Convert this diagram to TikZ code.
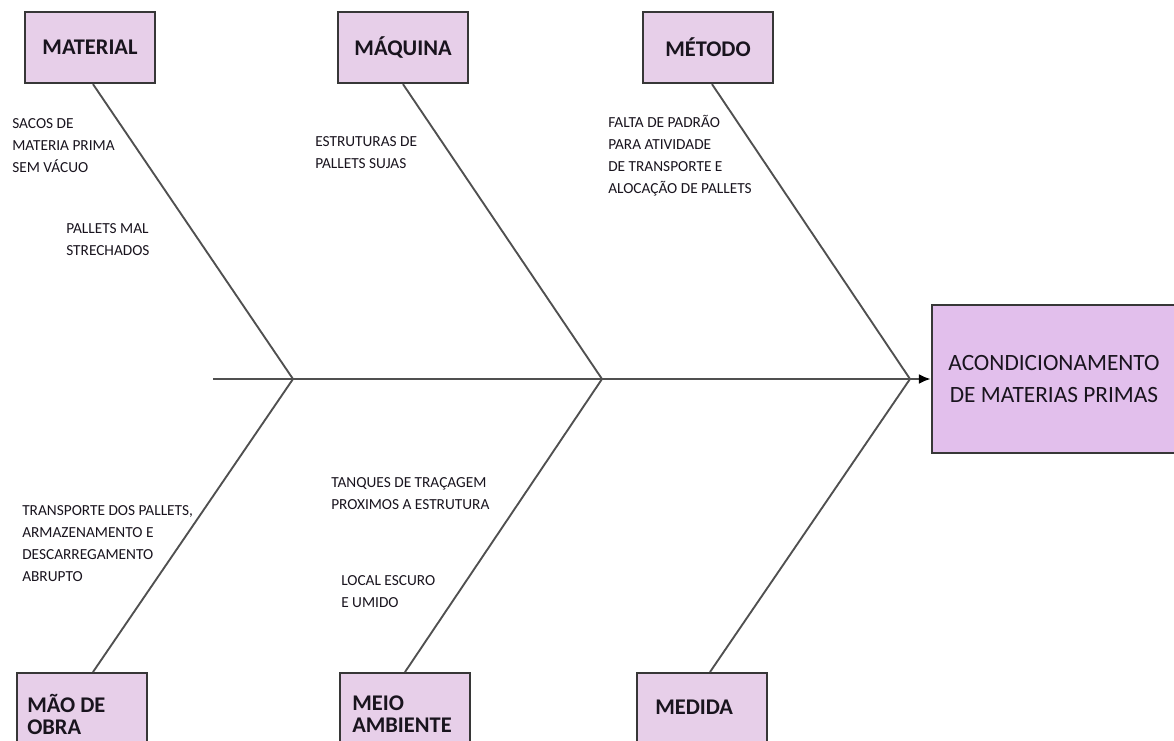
\documentclass[tikz,border=0pt]{standalone}
\usepackage{fontspec}
\setmainfont{Carlito}
\usetikzlibrary{arrows.meta,calc}
\definecolor{boxfill}{RGB}{231,207,233}
\definecolor{mainfill}{RGB}{226,191,236}
\definecolor{boxline}{RGB}{55,55,55}
\definecolor{boneline}{RGB}{80,80,80}
\definecolor{ink}{RGB}{25,20,30}
\begin{document}
\begin{tikzpicture}[x=0.75pt,y=-0.75pt,
  catbox/.style={draw=boxline,line width=1.7pt,fill=boxfill,minimum width=97.5pt,minimum height=53.25pt,inner sep=0pt,font=\fontsize{16.8}{18}\selectfont\bfseries,text=ink},
  lowbox/.style={draw=boxline,line width=1.7pt,fill=boxfill,minimum width=97.5pt,minimum height=75pt,inner sep=0pt,anchor=north},
  lowtext/.style={font=\fontsize{16.8}{16.5}\selectfont\bfseries,text=ink,align=left,anchor=west,inner sep=0pt},
  cause/.style={font=\fontsize{11.5}{16.5}\selectfont,align=left,anchor=west,inner sep=0pt,text=ink},
  effectbox/.style={draw=boxline,line width=1.7pt,fill=mainfill,minimum width=183pt,minimum height=111pt,inner sep=0pt,align=center,font=\fontsize{17.5}{24}\selectfont,text=ink},
  bone/.style={draw=boneline,line width=1.4pt},
  spine/.style={draw=boneline,line width=1.8pt}
]
\useasboundingbox (0,0) rectangle (1174,740);
\fill[white] (0,0) rectangle (1174,740);

% category boxes
\node[catbox] (material) at (90,47.5) {MATERIAL};
\node[catbox] (maquina) at (403,47.5) {MÁQUINA};
\node[catbox] (metodo) at (708,47.5) {MÉTODO};
\node[lowbox] (mao) at (82,672) {};
\node[lowbox] (meio) at (405,672) {};
\node[lowbox] (medida) at (702,672) {};
\node[lowtext] (maoT) at (27,714) {MÃO DE\\OBRA};
\node[lowtext] (meioT) at (352,714) {MEIO\\AMBIENTE};
\node[lowtext] (medidaT) at (655,707) {MEDIDA};

% effect box
\node[effectbox] (effect) at (1054,379) {ACONDICIONAMENTO\\DE MATERIAS PRIMAS};

% spine
\coordinate (tail) at (213,379);
\coordinate (j1) at (293,379);
\coordinate (j2) at (602,379);
\coordinate (j3) at (910,379);
\draw[spine,-{Latex[length=9pt,width=7.5pt,color=black]}] (tail) -- (effect.west);

% bones
\draw[bone] ($(material.south)+(3,0)$) -- (j1);
\draw[bone] (maquina.south) -- (j2);
\draw[bone] ($(metodo.south)+(4,0)$) -- (j3);
\draw[bone] ($(mao.north)+(11,0)$) -- (j1);
\draw[bone] (meio.north) -- (j2);
\draw[bone] ($(medida.north)+(8,0)$) -- (j3);

% causes
\node[cause] (c1) at (12,146) {SACOS DE\\MATERIA PRIMA\\SEM VÁCUO};
\node[cause] (c2) at (66,240) {PALLETS MAL\\STRECHADOS};
\node[cause] (c3) at (315,153) {ESTRUTURAS DE\\PALLETS SUJAS};
\node[cause] (c4) at (608,156) {FALTA DE PADRÃO\\PARA ATIVIDADE\\DE TRANSPORTE E\\ALOCAÇÃO DE PALLETS};
\node[cause] (c5) at (22,544) {TRANSPORTE DOS PALLETS,\\ARMAZENAMENTO E\\DESCARREGAMENTO\\ABRUPTO};
\node[cause] (c6) at (331,494) {TANQUES DE TRAÇAGEM\\PROXIMOS A ESTRUTURA};
\node[cause] (c7) at (341,592) {LOCAL ESCURO\\E UMIDO};
\end{tikzpicture}
\end{document}
